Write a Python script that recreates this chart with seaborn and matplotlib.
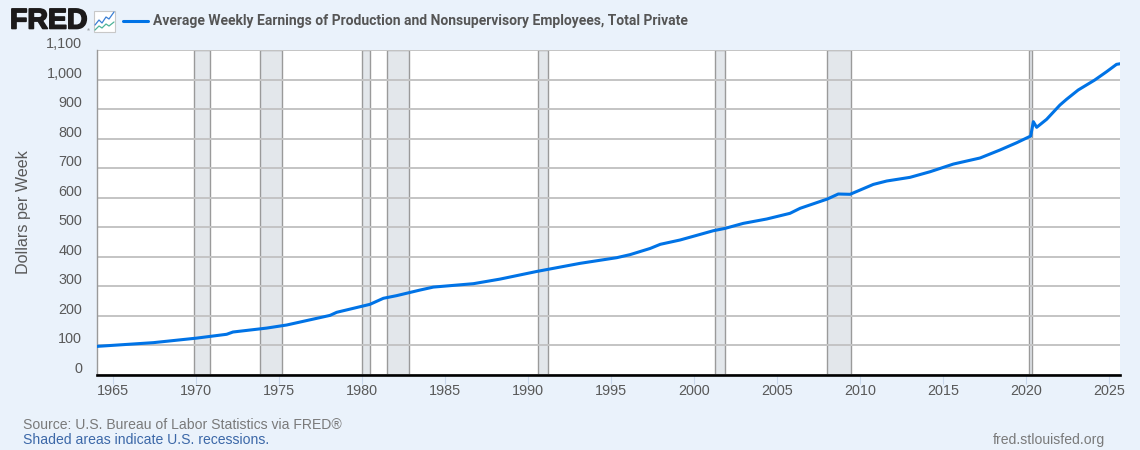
import matplotlib
matplotlib.use("Agg")
import matplotlib.pyplot as plt
import matplotlib.patheffects as pe
from matplotlib.patches import Rectangle
from matplotlib.lines import Line2D
from matplotlib.transforms import ScaledTranslation
import pandas as pd
import seaborn as sns

SERIES = "Average Weekly Earnings of Production and Nonsupervisory Employees, Total Private"
years = [1964.02, 1967.41, 1970.02, 1971.83, 1972.21, 1974.24, 1975.45, 1978.05, 1978.46,
         1980.46, 1981.27, 1982.07, 1983.48, 1984.28, 1986.69, 1988.29, 1990.51, 1993.12,
         1995.33, 1996.13, 1997.34, 1997.95, 1999.14, 2001.14, 2001.85, 2002.95, 2004.36,
         2005.76, 2006.37, 2008.01, 2008.67, 2009.38, 2010.78, 2011.59, 2012.99, 2014.20,
         2015.60, 2017.21, 2018.41, 2019.42, 2020.26, 2020.42, 2020.62, 2021.22, 2022.02,
         2022.42, 2023.12, 2024.12, 2024.83, 2025.43, 2025.64]
earnings = [96, 108.6, 124, 137, 144.7, 158, 168.5, 201, 211.5,
            238.5, 259, 268, 287, 297, 308.5, 324, 350, 377.5,
            396.7, 407, 428, 442, 456.6, 488, 496, 513, 527.8,
            547, 564, 595.5, 612.5, 611.5, 645, 656.6, 669, 688,
            714, 734.6, 761.7, 786.4, 809, 857.6, 838.6, 865.7, 914,
            933.5, 965, 999, 1027, 1052, 1054]
recession_start = [1969.88, 1973.86, 1980.00, 1981.51, 1990.57, 2001.23, 2008.01, 2020.18]
recession_end = [1970.84, 1975.18, 1980.48, 1982.83, 1991.20, 2001.87, 2009.46, 2020.34]
x_ticks = list(range(1965, 2026, 5))
y_ticks = list(range(0, 1101, 100))
y_labels = [f"{v:,}" for v in y_ticks]

W, H = 1140, 450
BG = "#eaf2fb"
TEXT = "#595959"
BLUE = "#0073e6"

sns.set_theme(style="white")
plt.rcParams["font.family"] = ["Liberation Sans", "DejaVu Sans"]
fig = plt.figure(figsize=(W / 100, H / 100), dpi=100, facecolor=BG)
L, R, T, B = 97, 1120, 50.2, 374.7
ax = fig.add_axes([L / W, 1 - B / H, (R - L) / W, (B - T) / H], facecolor="white")

df = pd.DataFrame({"year": years, "earnings": earnings})
sns.lineplot(data=df, x="year", y="earnings", color=BLUE, lw=2.2, ax=ax, label=SERIES,
             estimator=None, zorder=4, solid_joinstyle="round")

for s, e in zip(recession_start, recession_end):
    ax.axvspan(s, e, facecolor="#e3e7eb", edgecolor="#9a9a9a", lw=1.0, zorder=0.2)

ax.set_xlim(1964.02, 2025.64)
ax.set_ylim(0, 1100)
ax.set_xticks(x_ticks)
ax.set_yticks(y_ticks)
ax.set_yticklabels(y_labels)
ax.set_xlabel("")
ax.set_ylabel("")
ax.set_axisbelow(True)
ax.grid(axis="y", color="#c4c4c4", lw=1.4)
ax.grid(axis="x", visible=False)
ax.tick_params(axis="x", length=6.8, width=0.8, color="#c9d8ec", labelcolor=TEXT,
               labelsize=10.4, pad=0.2, bottom=True)
ax.tick_params(axis="y", length=0, labelcolor=TEXT, labelsize=10.4, pad=10.7)
off = ScaledTranslation(0, 7.5 / 100, fig.dpi_scale_trans)
for lab in ax.get_yticklabels():
    lab.set_transform(lab.get_transform() + off)
for side in ("top", "right"):
    ax.spines[side].set_visible(False)
ax.spines["left"].set_color("#9a9a9a")
ax.spines["left"].set_linewidth(1.0)
ax.spines["bottom"].set_color("black")
ax.spines["bottom"].set_linewidth(1.9)
ax.spines["bottom"].set_zorder(5)

leg = ax.legend(loc="center left", bbox_to_anchor=(123 / W, 1 - 21.5 / H),
                bbox_transform=fig.transFigure, frameon=False, borderpad=0, borderaxespad=0,
                handlelength=1.8, handletextpad=0.36,
                prop={"family": "Roboto", "weight": "bold", "size": 9.97})
for t in leg.get_texts():
    t.set_color("#555555")

def ftext(x, y, s, **kw):
    kw.setdefault("va", "center")
    return fig.text(x / W, 1 - y / H, s, **kw)

ftext(24, 212, "Dollars per Week", rotation=90, ha="center", color=TEXT, fontsize=11.6)
ftext(23, 425, "Source: U.S. Bureau of Labor Statistics via FRED®", color="#7a7a7a", fontsize=10.1)
ftext(23, 440, "Shaded areas indicate U.S. recessions.", color="#3c68a8", fontsize=10.1)
ftext(993, 440, "fred.stlouisfed.org", color="#7a7a7a", fontsize=10.1)

# FRED logo (wordmark plus small chart icon)
ftext(10, 21.5, "FRED", family="Liberation Sans", weight="bold", color="#1c1a1a", fontsize=20.5,
      path_effects=[pe.withStroke(linewidth=1.2, foreground="#1c1a1a")])
fig.add_artist(Rectangle((93.5 / W, 1 - 31.5 / H), 21 / W, 21 / H, transform=fig.transFigure,
                         facecolor="white", edgecolor="#c8c8c8", lw=0.8))
ftext(88.5, 30.5, "®", color="#555555", fontsize=3, ha="center")
icon_x = [95, 99, 102, 106, 109, 114]
icon_blue = [25, 20, 23, 17, 19, 12]
icon_green = [30, 26, 28, 24, 26, 22]
fig.add_artist(Line2D([x / W for x in icon_x], [1 - y / H for y in icon_blue],
                      transform=fig.transFigure, color="#3a7fd5", lw=0.9))
fig.add_artist(Line2D([x / W for x in icon_x], [1 - y / H for y in icon_green],
                      transform=fig.transFigure, color="#4db39a", lw=0.9))

fig.savefig("out.png", dpi=100, facecolor=BG)
